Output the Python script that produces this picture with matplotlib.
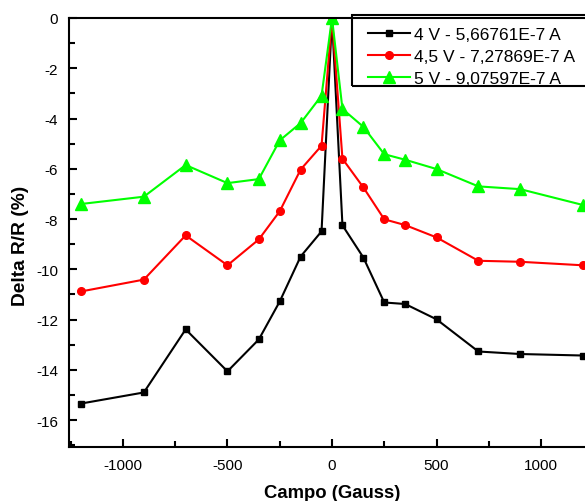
import matplotlib
matplotlib.use("Agg")
import matplotlib.pyplot as plt
from matplotlib.ticker import MultipleLocator
from matplotlib.patches import Rectangle

plt.rcParams['font.family'] = ['Liberation Sans', 'DejaVu Sans']
plt.rcParams['axes.unicode_minus'] = False

# campo (Gauss)
campo = [-1200, -900, -700, -500, -350, -250, -150, -50, 0,
         50, 150, 250, 350, 500, 700, 900, 1200]

# Delta R/R (%) for each bias
dr_4v = [-15.34, -14.90, -12.39, -14.06, -12.79, -11.28, -9.49, -8.49, 0.0,
         -8.25, -9.53, -11.32, -11.38, -11.99, -13.27, -13.37, -13.43]
dr_45v = [-10.88, -10.41, -8.65, -9.84, -8.81, -7.69, -6.03, -5.08, 0.0,
          -5.60, -6.74, -8.01, -8.24, -8.73, -9.66, -9.70, -9.84]
dr_5v = [-7.40, -7.11, -5.85, -6.57, -6.41, -4.87, -4.18, -3.09, 0.0,
         -3.62, -4.33, -5.42, -5.64, -6.01, -6.70, -6.81, -7.44]

labels = ["4 V - 5,66761E-7 A", "4,5 V - 7,27869E-7 A", "5 V - 9,07597E-7 A"]

fig = plt.figure(figsize=(5.85, 5.02), dpi=100)
# axes run a bit past the right edge, like the cropped original
ax = fig.add_axes([69/585, 54/502, 526/585, 429/502])

ax.plot(campo, dr_4v, color='black', lw=1.5, marker='s', ms=4.5, label=labels[0])
ax.plot(campo, dr_45v, color='#ff0000', lw=1.5, marker='o', ms=5.5, label=labels[1])
ax.plot(campo, dr_5v, color='#00ff00', lw=1.5, marker='^', ms=8, label=labels[2])

ax.set_xlim(-1258, 1258)
ax.set_ylim(-17.07, 0)

ax.xaxis.set_major_locator(MultipleLocator(500))
ax.xaxis.set_minor_locator(MultipleLocator(250))
ax.yaxis.set_major_locator(MultipleLocator(2))
ax.yaxis.set_minor_locator(MultipleLocator(1))
ax.tick_params(which='both', direction='in', top=False, right=False,
               width=1.5, labelsize=11, pad=8)
ax.tick_params(which='major', length=6)
ax.tick_params(which='minor', length=4)
ax.xaxis.set_major_formatter(plt.FuncFormatter(lambda v, p: "%d" % v))
ax.yaxis.set_major_formatter(plt.FuncFormatter(lambda v, p: "%d" % v))

for s in ax.spines.values():
    s.set_linewidth(1.5)

ax.set_xlabel("Campo (Gauss)", fontsize=13.3, fontweight='bold', labelpad=8.5)
ax.set_ylabel("Delta R/R (%)", fontsize=13.8, fontweight='bold')
ax.yaxis.set_label_coords(-0.076, 0.47)

# legend without its own frame, box drawn separately (it runs off the right edge)
leg = fig.legend(loc='upper left', bbox_to_anchor=(368/585, 1 - 28/502),
                 fontsize=12.5, frameon=False, handlelength=2.4,
                 handletextpad=0.25, borderpad=0, labelspacing=0.38,
                 borderaxespad=0)
fig.patches.append(Rectangle((352/585, 1 - 87/502), 260/585, 71/502,
                             transform=fig.transFigure, fill=False,
                             lw=1.5, ec='black'))

fig.savefig("out.png", dpi=100)
